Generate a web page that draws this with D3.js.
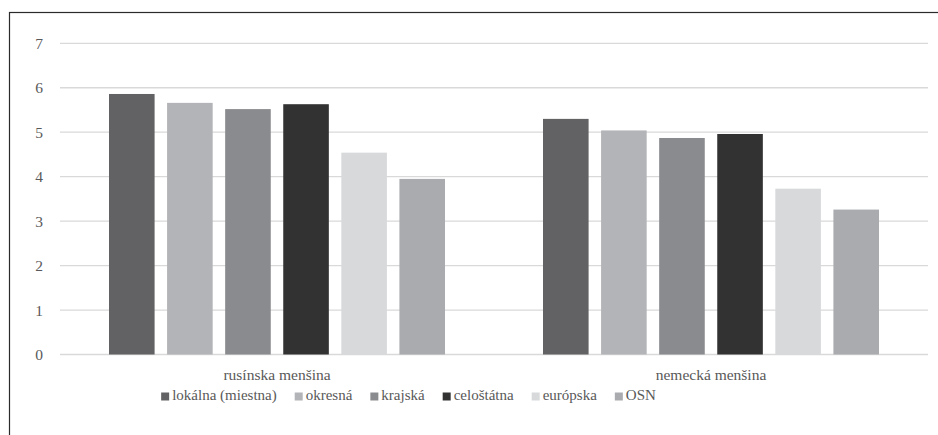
<!DOCTYPE html>
<html>
<head>
<meta charset="utf-8">
<script src="https://cdn.jsdelivr.net/npm/d3@7"></script>
</head>
<body style="margin:0">
<svg id="chart" width="938" height="435" style="display:block"></svg>
<script>
// Minority groups on the x axis
const categories = ["rusínska menšina", "nemecká menšina"];
// Level of government (one bar per level within each group)
const seriesNames = ["lokálna (miestna)", "okresná", "krajská", "celoštátna", "európska", "OSN"];
// Mean scores, by series, for [rusínska, nemecká]
const lokalna    = [5.86, 5.30];
const okresna    = [5.66, 5.04];
const krajska    = [5.52, 4.87];
const celostatna = [5.63, 4.96];
const europska   = [4.54, 3.73];
const osn        = [3.95, 3.26];
const yTicks = [0, 1, 2, 3, 4, 5, 6, 7];

const seriesValues = [lokalna, okresna, krajska, celostatna, europska, osn];
const colors = ["#626264", "#b3b4b7", "#8a8b8e", "#333233", "#d8d9db", "#aaabae"];
const FONT = "Liberation Serif";
const TEXT_COLOR = "#595959";

const svg = d3.select("#chart");
const plot = { left: 60, right: 928, top: 43.3, bottom: 354.5 };

function styleText(sel, size) {
  sel.style("font-family", FONT).attr("font-size", size).attr("fill", TEXT_COLOR);
}

// Outer frame (top and left edges visible)
svg.append("rect")
  .attr("x", 9.5).attr("y", 12.5)
  .attr("width", 1000).attr("height", 1000)
  .attr("fill", "none").attr("stroke", "#2b2b2b").attr("stroke-width", 1.2);

const y = d3.scaleLinear().domain([0, 7]).range([plot.bottom, plot.top]);
const x0 = d3.scaleBand().domain(categories).range([plot.left, plot.right]).padding(0);
const inner = 49;
const x1 = d3.scaleBand().domain(seriesNames)
  .range([inner, x0.bandwidth() - inner])
  .paddingInner(0.215).paddingOuter(0);

// Horizontal gridlines
svg.append("g").selectAll("line").data(yTicks).join("line")
  .attr("x1", plot.left).attr("x2", plot.right)
  .attr("y1", d => y(d)).attr("y2", d => y(d))
  .attr("stroke", "#d9d9d9").attr("stroke-width", 1.3);

// Y axis labels
const yAxis = svg.append("g").attr("transform", `translate(${plot.left - 17},0)`)
  .call(d3.axisLeft(y).tickValues(yTicks).tickSize(0).tickPadding(0).tickFormat(d3.format("d")));
yAxis.attr("font-family", null).attr("font-size", null);
yAxis.select(".domain").remove();
yAxis.selectAll("text").call(styleText, 15.5);

// Bars
const groups = svg.append("g").selectAll("g").data(categories).join("g")
  .attr("transform", d => `translate(${x0(d)},0)`);
groups.selectAll("rect")
  .data((c, ci) => seriesNames.map((s, si) => ({ s, si, v: seriesValues[si][ci] })))
  .join("rect")
  .attr("x", d => x1(d.s))
  .attr("width", x1.bandwidth())
  .attr("y", d => y(d.v))
  .attr("height", d => y(0) - y(d.v))
  .attr("fill", d => colors[d.si]);

// Category labels
const xAxis = svg.append("g").attr("transform", `translate(0,${plot.bottom})`)
  .call(d3.axisBottom(x0).tickSize(0).tickPadding(14));
xAxis.attr("font-family", null).attr("font-size", null);
xAxis.select(".domain").remove();
xAxis.selectAll("text").call(styleText, 15.5);

// Legend
const legend = svg.append("g");
const items = legend.selectAll("g").data(seriesNames).join("g");
items.append("rect").attr("width", 8).attr("height", 8).attr("y", -7.5)
  .attr("fill", (d, i) => colors[i]);
items.append("text").attr("x", 11).text(d => d).call(styleText, 15);

function layoutLegend() {
  let cx = 0;
  items.each(function () {
    const g = d3.select(this);
    g.attr("transform", `translate(${cx},0)`);
    cx += 11 + g.select("text").node().getComputedTextLength() + 18;
  });
  const legendWidth = cx - 18;
  legend.attr("transform", `translate(${408.5 - legendWidth / 2},400)`);
}
layoutLegend();
document.fonts.ready.then(layoutLegend);
</script>
</body>
</html>
